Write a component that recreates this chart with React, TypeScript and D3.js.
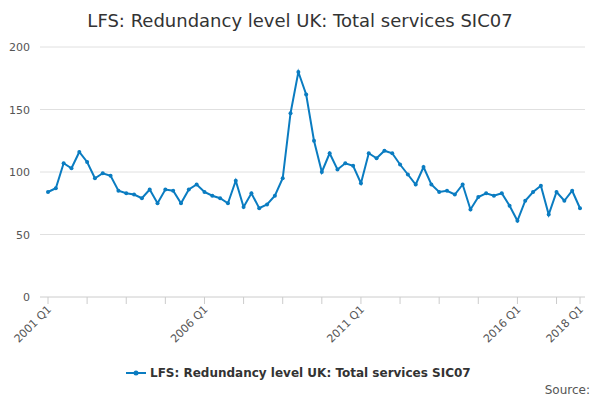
import React from "react";
import * as d3 from "d3";

const values = [84, 87, 107, 103, 116, 108, 95, 99, 97, 85, 83, 82, 79, 86, 75, 86, 85, 75, 86, 90,
  84, 81, 79, 75, 93, 72, 83, 71, 74, 81, 95, 147, 180, 162, 125, 100, 115, 102, 107, 105,
  91, 115, 111, 117, 115, 106, 98, 90, 104, 90, 84, 85, 82, 90, 70, 80, 83, 81, 83, 73,
  61, 77, 84, 89, 66, 84, 77, 85, 71];
const quarters = values.map((_, i) => `${2001 + Math.floor(i / 4)} Q${(i % 4) + 1}`);
const labelled = ["2001 Q1", "2006 Q1", "2011 Q1", "2016 Q1", "2018 Q1"];
const yTicks = [0, 50, 100, 150, 200];
const title = "LFS: Redundancy level UK: Total services SIC07";
const color = "#0a7cc1";

export default function App() {
  const x = d3.scaleLinear().domain([0, values.length - 1]).range([48, 580]);
  const y = d3.scaleLinear().domain([0, 200]).range([297, 47]);
  const line = d3.line<number>().x((_, i) => x(i)).y((d) => y(d));
  const tickIdx = values.map((_, i) => i).filter((i) => i % 5 === 0 || i === values.length - 1);
  const font = "DejaVu Sans, sans-serif";
  return (
    <svg width={600} height={400} style={{ position: "absolute", left: 0, top: 0, fontFamily: font }}>
      <rect width={600} height={400} fill="#fff" />
      <text x={300} y={27} textAnchor="middle" fontSize={18} fill="#333">{title}</text>
      {yTicks.map((t) => (
        <g key={t}>
          {t > 0 && <line x1={40} x2={585} y1={y(t)} y2={y(t)} stroke="#e0e0e0" />}
          <text x={30} y={y(t) + 4} textAnchor="end" fontSize={11} fill="#555">{t}</text>
        </g>
      ))}
      <line x1={40} x2={585} y1={y(0)} y2={y(0)} stroke="#ccc" />
      {tickIdx.map((i) => (
        <line key={i} x1={x(i)} x2={x(i)} y1={297} y2={304} stroke="#ccc" />
      ))}
      {quarters.map((q, i) =>
        labelled.includes(q) ? (
          <text key={q} transform={`translate(${x(i) + 4},${310}) rotate(-45)`} textAnchor="end" fontSize={11} fill="#555">{q}</text>
        ) : null
      )}
      <path d={line(values) ?? ""} fill="none" stroke={color} strokeWidth={2} />
      {values.map((v, i) => (
        <circle key={i} cx={x(i)} cy={y(v)} r={2} fill={color} />
      ))}
      <line x1={126} x2={146} y1={373} y2={373} stroke={color} strokeWidth={2} />
      <circle cx={136} cy={373} r={2.5} fill={color} />
      <text x={150} y={377} fontSize={12} fontWeight="bold" fill="#333">{title}</text>
      <text x={590} y={394} textAnchor="end" fontSize={12} fill="#555">Source:</text>
    </svg>
  );
}
